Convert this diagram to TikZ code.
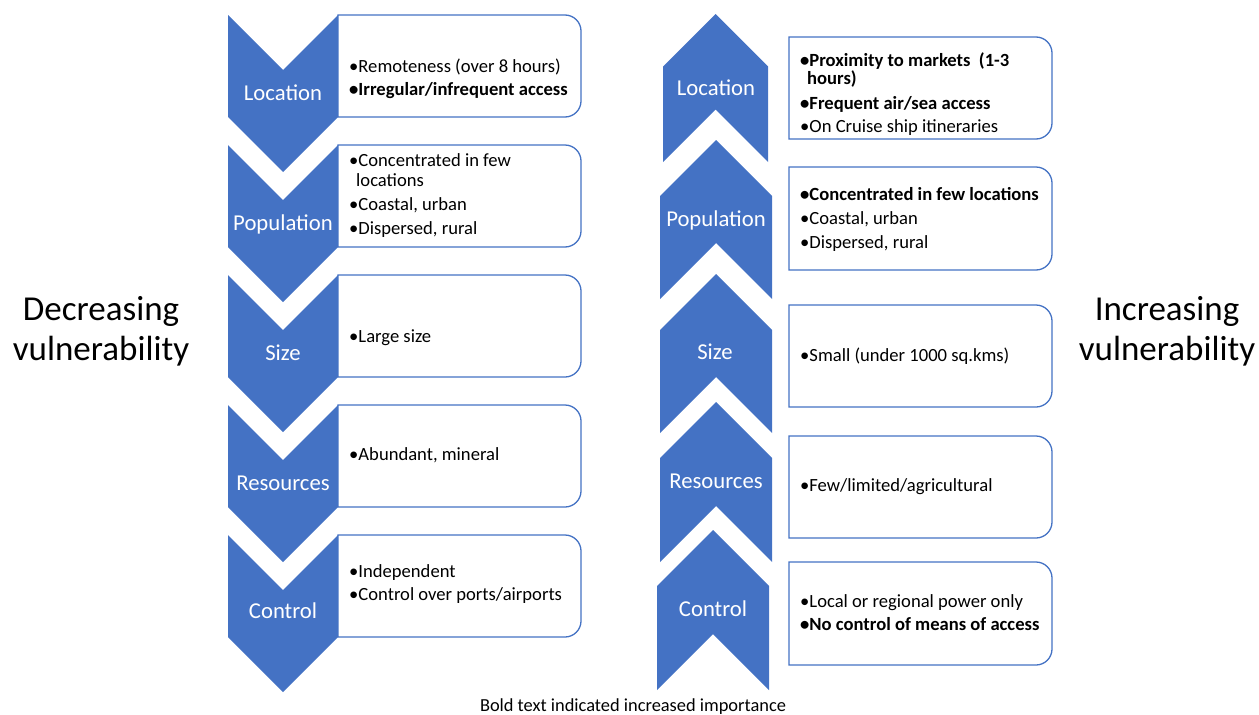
\documentclass[tikz,border=0pt]{standalone}
\usepackage{fontspec}
\setmainfont{Carlito}
\definecolor{sablue}{HTML}{4472C4}
\tikzset{
  chev/.style={fill=sablue, draw=none},
  tbox/.style={draw=sablue, line width=1.3pt, fill=white, line join=miter},
  lab/.style={text=white, font=\fontsize{22.7}{27}\selectfont, inner sep=0pt, anchor=base},
  item/.style={font=\fontsize{18.6}{22}\selectfont, inner sep=0pt, anchor=base west},
  side/.style={font=\fontsize{35}{40}\selectfont, inner sep=0pt, anchor=base},
  capt/.style={font=\fontsize{18.4}{22}\selectfont, inner sep=0pt, anchor=base},
}
% down chevron: x1 x2 top sidesbottom
\newcommand{\downchev}[4]{%
  \fill[chev] (#1,#3) -- ({(#1+#2)/2},{#3+(#2-#1)/2}) -- (#2,#3) -- (#2,#4)
    -- ({(#1+#2)/2},{#4+(#2-#1)/2}) -- (#1,#4) -- cycle;}
% up chevron: x1 x2 sidestop bottom
\newcommand{\upchev}[4]{%
  \fill[chev] (#1,#3) -- ({(#1+#2)/2},{#3-(#2-#1)/2}) -- (#2,#3) -- (#2,#4)
    -- ({(#1+#2)/2},{#4-(#2-#1)/2}) -- (#1,#4) -- cycle;}
% text box with rounded right corners: x1 y1 x2 y2
\newcommand{\rbox}[4]{%
  \draw[tbox] (#1,#2) -- ({#3-16},#2) .. controls ({#3-7.2},#2) and (#3,{#2+7.2}) .. (#3,{#2+16})
    -- (#3,{#4-16}) .. controls (#3,{#4-7.2}) and ({#3-7.2},#4) .. ({#3-16},#4)
    -- (#1,#4) -- cycle;}
\newcommand{\itm}[4]{\node[item] (#1) at (#2,#3) {#4};}
\begin{document}
\begin{tikzpicture}[x=1pt,y=-1pt]
\useasboundingbox (0,0) rectangle (1259,715);

% ---------- left column ----------
\downchev{228}{338}{15}{117}
\downchev{228}{338}{145}{247}
\downchev{228}{338}{275}{377}
\downchev{228}{338}{405}{507}
\downchev{228}{338}{535}{637}
\rbox{338}{15}{581}{117}
\rbox{338}{145}{581}{247}
\rbox{338}{275}{581}{377}
\rbox{338}{405}{581}{507}
\rbox{338}{535}{581}{637}

\node[lab] (Lloc) at (283,100.5) {Location};
\node[lab] (Lpop) at (283,230.5) {Population};
\node[lab] (Lsize) at (283,360) {Size};
\node[lab] (Lres) at (283,490) {Resources};
\node[lab] (Lctl) at (283,618) {Control};

\itm{la1}{349}{72}{•Remoteness (over 8 hours)}
\itm{la2}{349}{95}{\textbf{•Irregular/infrequent access}}
\itm{lb1}{349}{166.5}{•Concentrated in few}
\itm{lb2}{356}{186}{locations}
\itm{lb3}{349}{210.5}{•Coastal, urban}
\itm{lb4}{349}{234}{•Dispersed, rural}
\itm{lc1}{349}{342}{•Large size}
\itm{ld1}{349}{460}{•Abundant, mineral}
\itm{le1}{349}{577}{•Independent}
\itm{le2}{349}{600}{•Control over ports/airports}

% ---------- right column ----------
\upchev{663}{768}{66.5}{162}
\upchev{660}{772}{196}{299}
\upchev{660}{772}{330}{433}
\upchev{660}{772}{458}{562}
\upchev{657}{769}{586}{690}
\rbox{789}{37}{1052}{139}
\rbox{789}{167}{1052}{270}
\rbox{789}{305}{1052}{407}
\rbox{789}{436}{1052}{538}
\rbox{789}{562}{1052}{665}

\node[lab] (Rloc) at (716,95) {Location};
\node[lab] (Rpop) at (716,226) {Population};
\node[lab] (Rsize) at (715,359) {Size};
\node[lab] (Rres) at (716,488) {Resources};
\node[lab] (Rctl) at (713,616) {Control};

\itm{ra1}{800}{66.5}{\textbf{•Proximity to markets\ \ (1-3}}
\itm{ra2}{807}{84}{\textbf{hours)}}
\itm{ra3}{800}{109}{\textbf{•Frequent air/sea access}}
\itm{ra4}{800}{132}{•On Cruise ship itineraries}
\itm{rb1}{800}{200}{\textbf{•Concentrated in few locations}}
\itm{rb2}{800}{224}{•Coastal, urban}
\itm{rb3}{800}{248}{•Dispersed, rural}
\itm{rc1}{800}{361.5}{•Small (under 1000 sq.kms)}
\itm{rd1}{800}{491.5}{•Few/limited/agricultural}
\itm{re1}{800}{607}{•Local or regional power only}
\itm{re2}{800}{630.5}{\textbf{•No control of means of access}}

% ---------- side labels and caption ----------
\node[side] (dec1) at (101,320) {Decreasing};
\node[side] (dec2) at (101,360) {vulnerability};
\node[side] (inc1) at (1167,320) {Increasing};
\node[side] (inc2) at (1167,360) {vulnerability};
\node[capt] (cap) at (633,711.5) {Bold text indicated increased importance};
\end{tikzpicture}
\end{document}
